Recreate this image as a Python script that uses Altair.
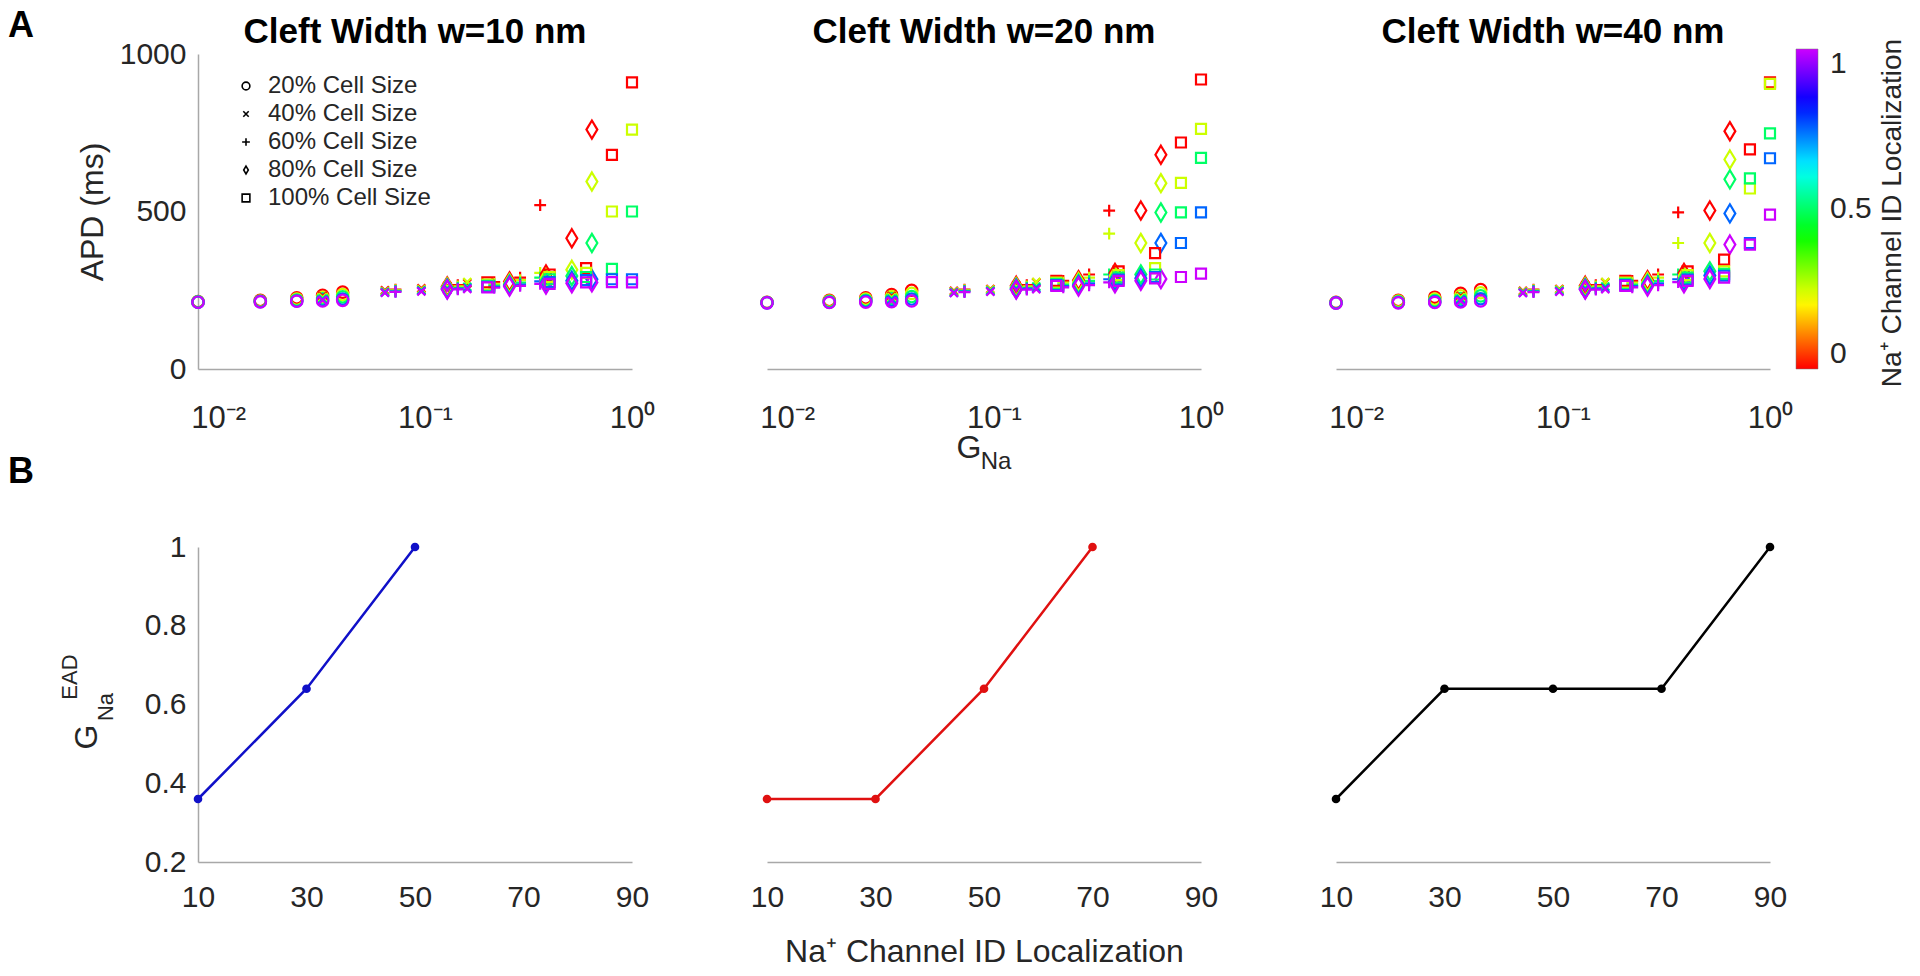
import altair as alt
import pandas as pd

FONT = "Liberation Sans"
TXT = "#262626"
AX = "#a8a8a8"
PANEL_W = 434
PANEL_H = 315
ROW_GAP = 178
ROW_STEP = PANEL_H + ROW_GAP

PANEL_TITLES = ["Cleft Width w=10 nm", "Cleft Width w=20 nm", "Cleft Width w=40 nm"]
SIZE_LABELS = ["20% Cell Size", "40% Cell Size", "60% Cell Size", "80% Cell Size", "100% Cell Size"]
# colour position of the five Na+ channel ID localizations (10,30,50,70,90 %)
LOC_COLOR = [0.0, 0.25, 0.5, 0.75, 1.0]

# G_Na values tested for each cell size
G_S20 = [0.008, 0.016, 0.024, 0.032, 0.04]
G_S40 = [0.032, 0.064, 0.096, 0.128, 0.16]
G_S60 = [0.072, 0.144, 0.216, 0.288, 0.36]
G_S80 = [0.128, 0.256, 0.384, 0.512, 0.64]
G_S100 = [0.2, 0.4, 0.6, 0.8, 1.0]

# APD (ms): rows = G_Na value, columns = localization (red ... violet)
APD_W10_S20 = [[214, 213, 213, 212, 212], [218, 216, 215, 214, 213], [226, 222, 219, 216, 215],
               [234, 228, 223, 219, 216], [244, 236, 229, 222, 218]]
APD_W10_S40 = [[232, 228, 224, 220, 218], [250, 247, 245, 243, 242], [256, 253, 250, 248, 246],
               [264, 262, 256, 253, 251], [272, 276, 261, 257, 254]]
APD_W10_S60 = [[252, 250, 248, 246, 245], [266, 262, 258, 255, 253], [276, 270, 265, 261, 258],
               [290, 282, 274, 268, 264], [520, 305, 290, 278, 270]]
APD_W10_S80 = [[262, 259, 256, 254, 252], [278, 272, 268, 265, 262], [300, 288, 279, 272, 268],
               [415, 315, 295, 280, 272], [760, 595, 400, 285, 275]]
APD_W10_S100 = [[275, 268, 264, 261, 259], [300, 292, 285, 276, 270], [320, 305, 292, 282, 275],
                [680, 500, 318, 285, 276], [910, 760, 500, 285, 275]]

APD_W20_S20 = [[212, 211, 211, 210, 210], [218, 216, 214, 212, 211], [226, 222, 218, 215, 212],
               [236, 230, 224, 218, 214], [250, 240, 230, 222, 216]]
APD_W20_S40 = [[232, 228, 224, 220, 216], [248, 246, 244, 242, 241], [254, 252, 249, 247, 245],
               [266, 262, 257, 253, 250], [275, 276, 262, 257, 253]]
APD_W20_S60 = [[252, 250, 248, 246, 244], [266, 262, 258, 255, 252], [280, 274, 268, 263, 259],
               [300, 290, 280, 272, 266], [503, 430, 300, 285, 275]]
APD_W20_S80 = [[264, 260, 257, 254, 252], [282, 276, 270, 266, 262], [305, 295, 285, 278, 272],
               [503, 400, 300, 288, 280], [680, 590, 497, 400, 286]]
APD_W20_S100 = [[280, 274, 270, 266, 264], [310, 298, 290, 284, 280], [368, 320, 300, 292, 288],
                [719, 591, 497, 400, 292], [919, 762, 670, 497, 303]]

APD_W40_S20 = [[212, 211, 210, 210, 209], [218, 216, 213, 211, 210], [228, 222, 217, 213, 211],
               [240, 232, 224, 217, 213], [252, 242, 232, 223, 216]]
APD_W40_S40 = [[232, 228, 224, 220, 216], [248, 246, 244, 242, 241], [254, 252, 249, 247, 245],
               [266, 262, 257, 253, 250], [275, 276, 262, 257, 253]]
APD_W40_S60 = [[252, 250, 248, 246, 244], [266, 262, 258, 255, 252], [280, 274, 268, 263, 259],
               [300, 290, 280, 272, 266], [497, 400, 300, 285, 276]]
APD_W40_S80 = [[264, 260, 257, 254, 252], [282, 276, 270, 266, 262], [305, 295, 285, 278, 272],
               [503, 400, 310, 297, 286], [755, 665, 602, 494, 395]]
APD_W40_S100 = [[280, 274, 270, 266, 264], [310, 298, 290, 284, 280], [347, 310, 302, 296, 290],
                [697, 573, 605, 400, 395], [910, 905, 748, 669, 490]]

# Panel B: G_Na at EAD onset vs localization
LOC_W10 = [10, 30, 50]
GEAD_W10 = [0.36, 0.64, 1.0]
LOC_W20 = [10, 30, 50, 70]
GEAD_W20 = [0.36, 0.36, 0.64, 1.0]
LOC_W40 = [10, 30, 50, 70, 90]
GEAD_W40 = [0.36, 0.64, 0.64, 0.64, 1.0]

G_LISTS = [G_S20, G_S40, G_S60, G_S80, G_S100]
TOP_TABLES = [
    [APD_W10_S20, APD_W10_S40, APD_W10_S60, APD_W10_S80, APD_W10_S100],
    [APD_W20_S20, APD_W20_S40, APD_W20_S60, APD_W20_S80, APD_W20_S100],
    [APD_W40_S20, APD_W40_S40, APD_W40_S60, APD_W40_S80, APD_W40_S100],
]

SHAPES = ["circle",
          "M-0.7,-0.7L0.7,0.7M-0.7,0.7L0.7,-0.7",
          "M-1,0L1,0M0,-1L0,1",
          "M0,-1L0.6,0L0,1L-0.6,0Z",
          "square"]
MARK_SIZES = [130, 130, 140, 330, 100]

color_scale = alt.Scale(domain=[0, 1], range=["#ff0000", "#cc00ff"], interpolate="hsl-long")
shape_scale = alt.Scale(domain=SIZE_LABELS, range=SHAPES)

color_legend = alt.Legend(
    orient="none", legendX=1598, legendY=-5, direction="vertical",
    gradientLength=320, gradientThickness=22, values=[0, 0.5, 1], format="~g",
    labelFontSize=30, labelFont=FONT, labelColor=TXT, labelOffset=12, title=None,
    gradientStrokeColor="#777777", gradientStrokeWidth=0.5)

shape_legend = alt.Legend(
    orient="none", legendX=36, legendY=20, title=None, labelLimit=0,
    labelFontSize=24, labelFont=FONT, labelColor=TXT, labelOffset=10,
    symbolSize=60, symbolStrokeColor="black", symbolFillColor="transparent",
    symbolStrokeWidth=1.6, rowPadding=4)


def top_frame(tables):
    rows = []
    for label, gs, table in zip(SIZE_LABELS, G_LISTS, tables):
        for g, apds in zip(gs, table):
            for c, apd in zip(LOC_COLOR, apds):
                rows.append({"size": label, "G": g, "APD": apd, "loc": c})
    df = pd.DataFrame(rows)
    return df.sort_values("loc", kind="stable")


def text_layer(text, x, y, size, weight="normal", angle=0, color="black"):
    return alt.Chart(pd.DataFrame({"t": [text]})).mark_text(
        font=FONT, fontSize=size, fontWeight=weight, angle=angle, color=color,
        align="center", baseline="middle").encode(
        x=alt.value(x), y=alt.value(y), text="t:N")


def top_panel(i):
    df = top_frame(TOP_TABLES[i])
    xaxis = alt.Axis(values=[0.01, 0.1, 1], title=None, grid=False, ticks=False,
                     labelExpr="'10' + (datum.value < 0.05 ? '⁻²' : datum.value < 0.5 ? '⁻¹' : '⁰')",
                     labelFontSize=31, labelFont=FONT, labelColor=TXT, labelPadding=34,
                     domainColor=AX, domainWidth=1.5, labelFlush=False)
    # identical y axes keep the three titles level; only the first one is visible
    yaxis = alt.Axis(values=[0, 500, 1000], format="d", title="APD (ms)" if i == 0 else None,
                     grid=False, ticks=False, labelFontSize=30, labelFont=FONT,
                     labelColor=TXT, labelOpacity=1 if i == 0 else 0,
                     labelPadding=12, titleFontSize=32, titleFont=FONT,
                     titleFontWeight="normal", titleColor=TXT, titlePadding=10,
                     domain=(i == 0), domainColor=AX, domainWidth=1.5)
    layers = []
    for label, shp_size in zip(SIZE_LABELS, MARK_SIZES):
        layers.append(
            alt.Chart(df).transform_filter(alt.datum.size == label)
            .mark_point(filled=False, strokeWidth=2.2, size=shp_size, opacity=1)
            .encode(
                x=alt.X("G:Q", scale=alt.Scale(type="log", domain=[0.008, 1], nice=False), axis=xaxis),
                y=alt.Y("APD:Q", scale=alt.Scale(domain=[0, 1000], nice=False), axis=yaxis),
                color=alt.Color("loc:Q", scale=color_scale, legend=color_legend),
                shape=alt.Shape("size:N", scale=shape_scale, legend=shape_legend),
            ))
    if i == 1:
        layers.append(text_layer("G", 202, 394, 32, color=TXT))
        layers.append(text_layer("Na", 229, 408, 24, color=TXT))
    return alt.layer(*layers).properties(
        width=PANEL_W, height=PANEL_H,
        title=alt.TitleParams(PANEL_TITLES[i], font=FONT, fontSize=35, fontWeight="bold",
                              color="black", offset=-11, frame="group"))


def bottom_panel(i, xs, ys, color):
    df = pd.DataFrame({"loc": xs, "g": ys})
    xaxis = alt.Axis(values=[10, 30, 50, 70, 90], grid=False, ticks=False,
                     title="Na⁺ Channel ID Localization" if i == 1 else None,
                     labelFontSize=30, labelFont=FONT, labelColor=TXT, labelPadding=20,
                     titleFontSize=32, titleFont=FONT, titleFontWeight="normal",
                     titleColor=TXT, titlePadding=24, domainColor=AX, domainWidth=1.5,
                     labelFlush=False)
    if i == 0:
        yaxis = alt.Axis(values=[0.2, 0.4, 0.6, 0.8, 1], format="~g", title=None, grid=False,
                         ticks=False, labelFontSize=30, labelFont=FONT, labelColor=TXT,
                         labelPadding=12, domainColor=AX, domainWidth=1.5, labelFlush=False)
    else:
        yaxis = None
    base = alt.Chart(df).encode(
        x=alt.X("loc:Q", scale=alt.Scale(domain=[10, 90], nice=False), axis=xaxis),
        y=alt.Y("g:Q", scale=alt.Scale(domain=[0.2, 1], nice=False), axis=yaxis),
    )
    layers = [base.mark_line(color=color, strokeWidth=2.5),
              base.mark_point(filled=True, color=color, size=75, opacity=1)]
    if i == 0:
        # panel letters (A sits above the top row)
        layers.append(text_layer("A", -177, -28 - ROW_STEP, 36, "bold"))
        layers.append(text_layer("B", -177, -75, 36, "bold"))
        layers.append(text_layer("G", -111, 190, 32, angle=270, color=TXT))
        layers.append(text_layer("EAD", -128, 130, 22, angle=270, color=TXT))
        layers.append(text_layer("Na", -92, 160, 22, angle=270, color=TXT))
    if i == 2:
        # colour-bar title (beside the top-right panel)
        layers.append(text_layer("Na⁺ Channel ID Localization", 557, 159 - ROW_STEP, 28,
                                 angle=270, color=TXT))
    return alt.layer(*layers).properties(width=PANEL_W, height=PANEL_H)


chart = alt.concat(
    top_panel(0), top_panel(1), top_panel(2),
    bottom_panel(0, LOC_W10, GEAD_W10, "#1010c8"),
    bottom_panel(1, LOC_W20, GEAD_W20, "#e01010"),
    bottom_panel(2, LOC_W40, GEAD_W40, "#000000"),
    columns=3, spacing={"row": ROW_GAP, "column": 135}, bounds="flush",
).properties(
    padding={"left": 0, "top": 0, "right": 0, "bottom": 0}, background="white"
).configure_view(stroke=None)

chart.save("out.html", embed_options={"renderer": "svg", "actions": False})
